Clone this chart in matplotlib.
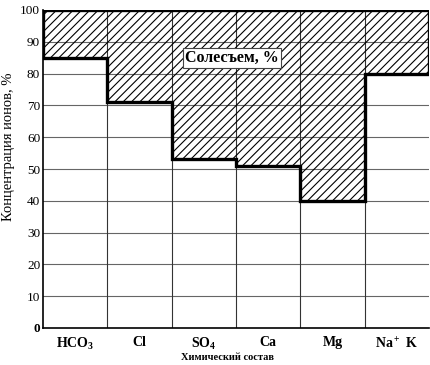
import matplotlib.pyplot as plt
import numpy as np

plt.rcParams['font.family'] = ['Liberation Serif', 'DejaVu Serif']
plt.rcParams['mathtext.default'] = 'regular'
plt.rcParams['hatch.linewidth'] = 0.8

# данные
categories = ['HCO$_3$', 'Cl', 'SO$_4$', 'Ca', 'Mg', 'Na$^+$ K']
values = [85, 71, 53, 51, 40, 80]  # концентрация ионов, %
yticks = [0, 10, 20, 30, 40, 50, 60, 70, 80, 90, 100]

edges = np.arange(len(categories) + 1)
centers = edges[:-1] + 0.5

fig = plt.figure(figsize=(4.31, 3.65), dpi=100)
ax = fig.add_axes([43 / 431, 37 / 365, 386 / 431, 318 / 365])

# сетка
for y in yticks[1:]:
    ax.axhline(y, color='#666666', lw=0.8, zorder=1)
for x in edges[1:-1]:
    ax.axvline(x, color='#333333', lw=0.8, zorder=1)

# штриховка солесъема
ax.stairs(values, edges, baseline=100, fill=True, facecolor='none',
          edgecolor='black', hatch='////', lw=0, zorder=2)
ax.stairs(values, edges, baseline=100, fill=False, color='black', lw=2.4, zorder=3)
ax.plot([0, len(categories)], [100, 100], color='black', lw=2.4, zorder=3,
        solid_capstyle='projecting')

ax.text(2.94, 85, 'Солесъем, %', ha='center', va='center', fontsize=11.5,
        fontweight='bold', zorder=4,
        bbox=dict(facecolor='white', edgecolor='#444444', lw=0.8, pad=1.5))

ax.set_xlim(0, len(categories))
ax.set_ylim(0, 100)
ax.set_xticks(centers)
ax.set_xticklabels(categories, fontweight='bold', fontsize=10)
ax.set_yticks(yticks)
ax.set_yticklabels([str(v) for v in yticks], fontsize=9.5)
ax.get_yticklabels()[0].set_fontweight('bold')
ax.tick_params(length=0, pad=2)
ax.tick_params(axis='x', pad=6)

for s in ['top', 'right']:
    ax.spines[s].set_visible(False)
ax.spines['left'].set_linewidth(1.2)
ax.spines['bottom'].set_linewidth(1.2)

fig.text(228 / 431, 1 - 358 / 365, 'Химический состав', ha='center', va='center',
         fontsize=7.5, fontweight='bold')
ax.set_ylabel('Концентрация ионов, %', fontsize=10.5)
ax.yaxis.set_label_coords(-0.073, 0.57)

plt.savefig('out.png', dpi=100)
